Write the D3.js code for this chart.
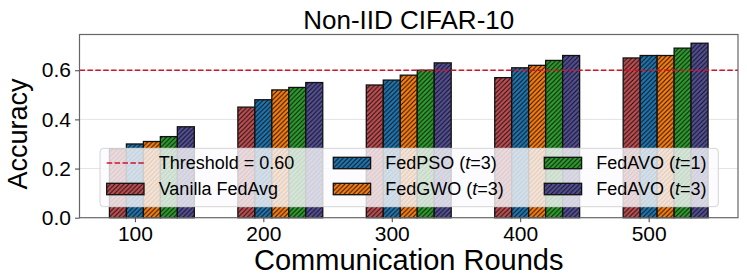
<!DOCTYPE html>
<html><head><meta charset="utf-8">
<script src="https://cdn.jsdelivr.net/npm/d3@7"></script>
<style>body{margin:0;background:#fff}svg{display:block}text{font-family:"Liberation Sans",Arial,sans-serif}</style>
</head><body><svg id="c" width="747" height="280"></svg>
<script>
const rounds = ["100","200","300","400","500"];
const seriesNames = ["Vanilla FedAvg","FedPSO (t=3)","FedGWO (t=3)","FedAVO (t=1)","FedAVO (t=3)"];
const vanilla = [0.28,0.45,0.54,0.57,0.65];
const fedpso  = [0.30,0.48,0.56,0.61,0.66];
const fedgwo  = [0.31,0.52,0.58,0.62,0.66];
const fedavo1 = [0.33,0.53,0.60,0.64,0.69];
const fedavo3 = [0.37,0.55,0.63,0.66,0.71];
const threshold = 0.60;
const yTicks = [0.0,0.2,0.4,0.6];
const colors = ["#c44e52","#1f77b4","#ff7f0e","#2ca02c","#54509a"];
const series = [vanilla,fedpso,fedgwo,fedavo1,fedavo3];

const svg = d3.select("#c");
const L=79.5,R=738,T=34.5,B=217.7;
const bw = 0.1322; // bar width in group units
const offs = [-1,0,1,2,3];
const xmin = 0 + offs[0]*bw - bw/2, xmax = 4 + offs[4]*bw + bw/2;
const pad = (xmax-xmin)*0.05;
const x = d3.scaleLinear().domain([xmin-pad,xmax+pad]).range([L,R]);
const ymax = d3.max(series.flat())*1.05;
const y = d3.scaleLinear().domain([0,ymax]).range([B,T]);

// patterns
const defs = svg.append("defs");
colors.forEach((c,i)=>{
  const p = defs.append("pattern").attr("id","h"+i).attr("patternUnits","userSpaceOnUse")
    .attr("width",4.6).attr("height",4.6);
  p.append("rect").attr("width",4.6).attr("height",4.6).attr("fill",c);
  p.append("path").attr("d","M-1,1 L1,-1 M0,4.6 L4.6,0 M3.6,5.6 L5.6,3.6")
    .attr("stroke","#111").attr("stroke-width",1);
});

// grid
svg.append("g").selectAll("line").data(yTicks.filter(d=>d>0)).join("line")
  .attr("x1",L).attr("x2",R).attr("y1",d=>y(d)).attr("y2",d=>y(d))
  .attr("stroke","#e3e3e3").attr("stroke-width",1);

// bars
series.forEach((s,i)=>{
  svg.append("g").selectAll("rect").data(s).join("rect")
    .attr("x",(d,j)=>x(j+offs[i]*bw-bw/2)).attr("width",x(bw)-x(0))
    .attr("y",d=>y(d)).attr("height",d=>B-y(d))
    .attr("fill","url(#h"+i+")").attr("stroke","#111").attr("stroke-width",1.3);
});

// threshold
svg.append("line").attr("x1",L).attr("x2",R).attr("y1",y(threshold)).attr("y2",y(threshold))
  .attr("stroke","#d0142c").attr("stroke-width",1.5).attr("stroke-dasharray","5.5,2.4");

// frame
svg.append("rect").attr("x",L).attr("y",T).attr("width",R-L).attr("height",B-T)
  .attr("fill","none").attr("stroke","#666").attr("stroke-width",1.2);

// axes
const yAxis = d3.axisLeft(y).tickValues(yTicks).tickFormat(d3.format(".1f")).tickSize(4.5).tickPadding(4);
const gy = svg.append("g").attr("transform",`translate(${L},0)`).call(yAxis);
const xAxis = d3.axisBottom(x).tickValues(d3.range(rounds.length)).tickFormat(i=>rounds[i]).tickSize(4.5).tickPadding(3.5);
const gx = svg.append("g").attr("transform",`translate(0,${B})`).call(xAxis);
[gx,gy].forEach(g=>{g.select(".domain").remove();g.selectAll("line").attr("stroke","#444");
  g.selectAll("text").attr("font-size",21).attr("fill","#000").style("font-family","'Liberation Sans',Arial,sans-serif");});

// labels
svg.append("text").attr("x",(L+R)/2).attr("y",28.5).attr("text-anchor","middle").attr("font-size",26).text("Non-IID CIFAR-10");
svg.append("text").attr("x",(L+R)/2).attr("y",270).attr("text-anchor","middle").attr("font-size",29).text("Communication Rounds");
svg.append("text").attr("transform",`translate(27,${(T+B)/2+8}) rotate(-90)`).attr("text-anchor","middle").attr("font-size",27).text("Accuracy");

// legend
const lg = svg.append("g");
lg.append("rect").attr("x",100).attr("y",148.3).attr("width",618.3).attr("height",58.4).attr("rx",3.5)
  .attr("fill","#fbfbfe").attr("fill-opacity",0.8).attr("stroke","#d4d4d4").attr("stroke-width",1);
const items = [{type:"line",label:"Threshold = 0.60"}].concat(seriesNames.map((n,i)=>({type:"bar",i,label:n})));
const colX = [106.7,333.3,544.3];
const rowY = [163,189];
items.forEach((it,k)=>{
  const col = Math.floor(k/2), row = k%2;
  const hx = colX[col], cy = rowY[row];
  if(it.type==="line"){
    lg.append("line").attr("x1",hx).attr("x2",hx+37.3).attr("y1",cy).attr("y2",cy)
      .attr("stroke","#d0142c").attr("stroke-width",1.5).attr("stroke-dasharray","5.5,2.4");
  } else {
    lg.append("rect").attr("x",hx).attr("y",cy-5.7).attr("width",37.3).attr("height",11.4)
      .attr("fill","url(#h"+it.i+")").attr("stroke","#111").attr("stroke-width",1.3);
  }
  const t = lg.append("text").attr("x",hx+52).attr("y",cy+6.4).attr("font-size",18);
  const m = it.label.match(/^(.*\()t(=.*)$/);
  if(m){ t.append("tspan").text(m[1]); t.append("tspan").attr("font-style","italic").text("t"); t.append("tspan").text(m[2]); }
  else t.text(it.label);
});
</script></body></html>
